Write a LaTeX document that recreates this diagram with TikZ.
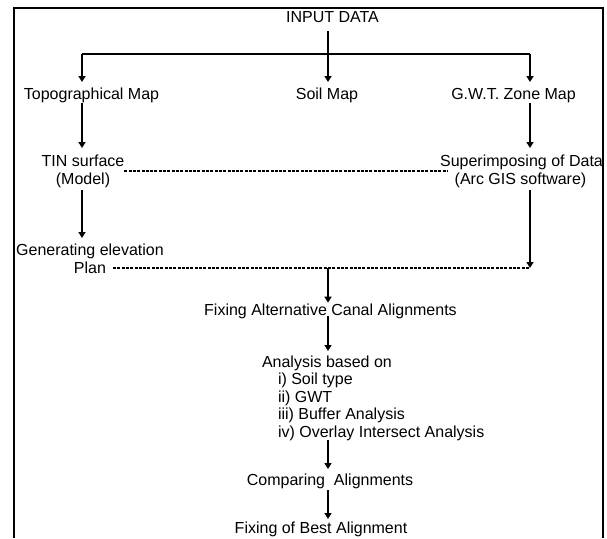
\documentclass[tikz,border=0pt]{standalone}
\usepackage{fontspec}
\setmainfont{Liberation Sans}
\usetikzlibrary{arrows.meta,calc}
\tikzset{
  txt/.style={inner sep=0pt, outer sep=0pt, anchor=base, font=\fontsize{16}{18}\selectfont},
  txtl/.style={txt, anchor=base west},
  arr/.style={line width=1.5pt, -{Triangle[length=6pt,width=7pt]}},
  plain/.style={line width=1.5pt},
  dotl/.style={line width=1.2pt, dash pattern=on 3pt off 1.3pt},
  frame/.style={line width=2pt}
}
\begin{document}
\begin{tikzpicture}[x=1pt,y=-1pt]
\useasboundingbox (0,0) rectangle (607,538);
% frame
\draw[frame] (14,538) -- (14,8) -- (603,8) -- (603,538);

% column x positions
\coordinate (xl) at (82,0);
\coordinate (xc) at (328,0);
\coordinate (xr) at (530,0);
\coordinate (br) at (328,54);

% nodes
\node[txt] (in) at (332.5,22.5) {INPUT DATA};
\node[txt] (topo) at (91.5,99) {Topographical Map};
\node[txt] (soil) at (327,99) {Soil Map};
\node[txt] (gwt) at (513.5,99) {G.W.T. Zone Map};
\node[txt] (tin1) at (83,166.5) {TIN surface};
\node[txt] (tin2) at (83,184.5) {(Model)};
\node[txt] (sup1) at (521.5,166.5) {Superimposing of Data};
\node[txt] (sup2) at (520.5,184.5) {(Arc GIS software)};
\node[txt] (gen1) at (90,255.5) {Generating elevation};
\node[txt] (plan) at (90,273.5) {Plan};
\node[txt] (fixalt) at (330.5,315) {Fixing Alternative Canal Alignments};
\node[txtl] (ana0) at (262,367) {Analysis based on};
\node[txtl] (ana1) at (278,384.5) {i) Soil type};
\node[txtl] (ana2) at (278,402) {ii) GWT};
\node[txtl] (ana3) at (278,419.5) {iii) Buffer Analysis};
\node[txtl] (ana4) at (278,437) {iv) Overlay Intersect Analysis};
\node[txt] (comp) at (330,485.5) {Comparing\ \ Alignments};
\node[txt] (best) at (321,533) {Fixing of Best Alignment};

\coordinate (jn) at (530,268);

% connectors
\draw[arr, shorten <=8.5pt, shorten >=17pt] (xc |- in.base) -- (xc |- soil.base);
\draw[plain] (xl |- br) -- (xr |- br);
\draw[arr, shorten >=17pt] (xl |- br) -- (xl |- topo.base);
\draw[arr, shorten >=17pt] (xr |- br) -- (xr |- gwt.base);
\draw[arr, shorten <=4pt, shorten >=18.5pt] (xl |- topo.base) -- (xl |- tin1.base);
\draw[arr, shorten <=4pt, shorten >=18.5pt] (xr |- gwt.base) -- (xr |- sup1.base);
\draw[arr, shorten <=5.5pt, shorten >=17.5pt] (xl |- tin2.base) -- (xl |- gen1.base);
\draw[arr, shorten <=5.5pt] (xr |- sup2.base) -- (jn);
\draw[dotl] ($(tin1.base east)+(0,4.5)$) -- ($(sup1.base west)+(7,4.5)$);
\draw[dotl] ($(plan.base east)+(7,-5.5)$) -- (jn);
\draw[arr, shorten >=12.3pt] (xc |- jn) -- (xc |- fixalt.base);
\draw[arr, shorten <=0.5pt, shorten >=16pt] (xc |- fixalt.base) -- (xc |- ana0.base);
\draw[arr, shorten <=3pt, shorten >=16.5pt] (xc |- ana4.base) -- (xc |- comp.base);
\draw[arr, shorten <=4.5pt, shorten >=14pt] (xc |- comp.base) -- (xc |- best.base);
\end{tikzpicture}
\end{document}
